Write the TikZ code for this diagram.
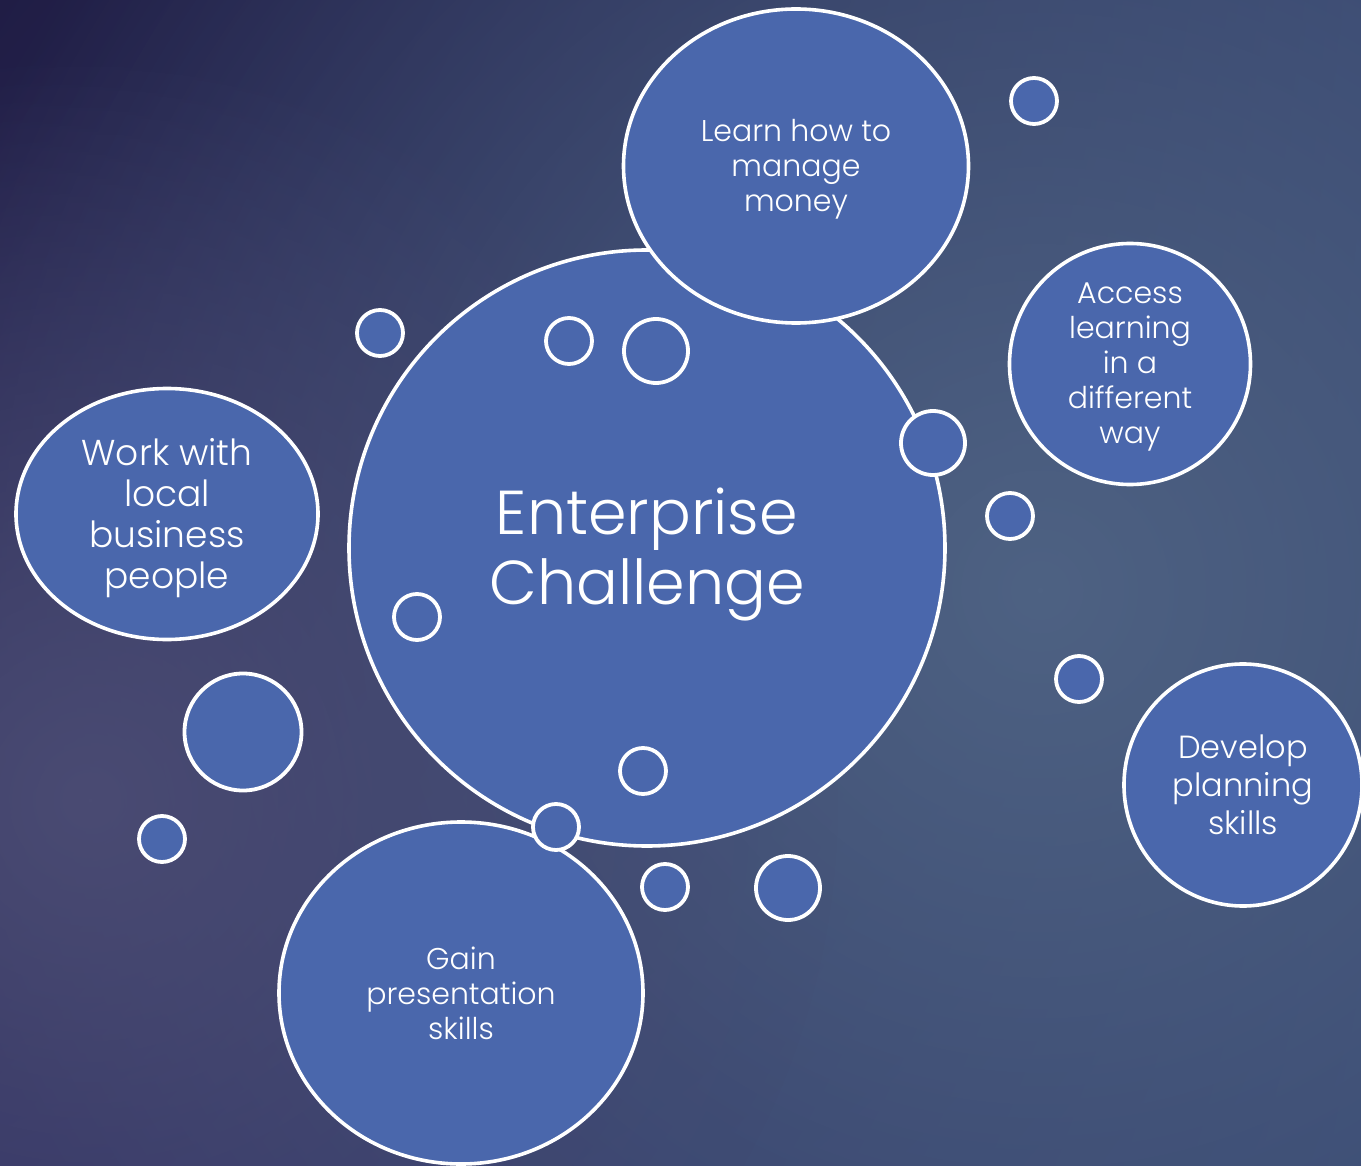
\documentclass[tikz,border=0pt]{standalone}
\usepackage{fontspec}
\setmainfont{Poppins Light}
\usetikzlibrary{shapes.geometric,fadings,shadings}
\definecolor{bub}{HTML}{4A67AC}
\definecolor{bgTL}{HTML}{201D45}
\definecolor{bgTR}{HTML}{34416C}
\definecolor{bgBL}{HTML}{2F3062}
\definecolor{bgBR}{HTML}{35446F}
\definecolor{glowA}{HTML}{4E6283}
\definecolor{glowB}{HTML}{4A4B73}
\tikzfading[name=glowfade, inner color=transparent!0, outer color=transparent!100]
\begin{document}
\begin{tikzpicture}[x=1pt,y=-1pt,
  bubble/.style={ellipse, draw=white, line width=3.6pt, fill=bub, inner sep=0pt},
  lbl/.style={text=white, align=center, inner sep=0pt},
  dot/.style={circle, draw=white, line width=3.8pt, fill=bub, inner sep=0pt},
  sdot/.style={dot, minimum size=46pt},
  mdot/.style={dot, minimum size=64pt}]
\useasboundingbox (0,0) rectangle (1361,1166);
\clip (0,0) rectangle (1361,1166);
\shade[upper left=bgTL, upper right=bgTR, lower left=bgBL, lower right=bgBR] (0,0) rectangle (1361,1166);
\fill[glowA, path fading=glowfade] (1040,590) circle[radius=1150pt];
\fill[glowB, path fading=glowfade] (90,800) circle[radius=750pt];

\node[bubble, minimum width=596pt, minimum height=596pt] (ec) at (647,548) {};
\node[lbl, font=\fontsize{62}{70}\selectfont] (ect) at ([yshift=-6pt]ec.center) {Enterprise\\Challenge};
\node[bubble, minimum width=345pt, minimum height=314pt] (money) at (796,166) {};
\node[lbl, font=\fontsize{30}{35}\selectfont] (moneyt) at ([yshift=-3pt]money.center) {Learn how to\\manage\\money};
\node[bubble, minimum width=241pt, minimum height=241pt] (access) at (1130,364) {};
\node[lbl, font=\fontsize{30}{35}\selectfont] (accesst) at ([yshift=-3pt]access.center) {Access\\learning\\in a\\different\\way};
\node[bubble, minimum width=302pt, minimum height=251pt] (work) at (167,514) {};
\node[lbl, font=\fontsize{36}{41}\selectfont] (workt) at ([yshift=-4pt]work.center) {Work with\\local\\business\\people};
\node[bubble, minimum width=238pt, minimum height=242pt] (plan) at (1243,785) {};
\node[lbl, font=\fontsize{32}{38}\selectfont] (plant) at (plan.center) {Develop\\planning\\skills};
\node[bubble, minimum width=364pt, minimum height=342pt] (gain) at (461,993) {};
\node[lbl, font=\fontsize{30}{35}\selectfont] (gaint) at (gain.center) {Gain\\presentation\\skills};

\node[sdot] (d1) at (380,333) {};
\node[sdot] (d2) at (569,341) {};
\node[mdot] (d3) at (656,351) {};
\node[mdot] (d4) at (933,443) {};
\node[sdot] (d5) at (1034,101) {};
\node[sdot] (d6) at (1010,516) {};
\node[sdot] (d7) at (417,617) {};
\node[sdot] (d8) at (1079,679) {};
\node[dot, minimum size=117pt] (d9) at (243,732) {};
\node[sdot] (d10) at (162,839) {};
\node[sdot] (d11) at (643,771) {};
\node[sdot] (d12) at (556,827) {};
\node[sdot] (d13) at (665,887) {};
\node[mdot] (d14) at (788,888) {};
\end{tikzpicture}
\end{document}
